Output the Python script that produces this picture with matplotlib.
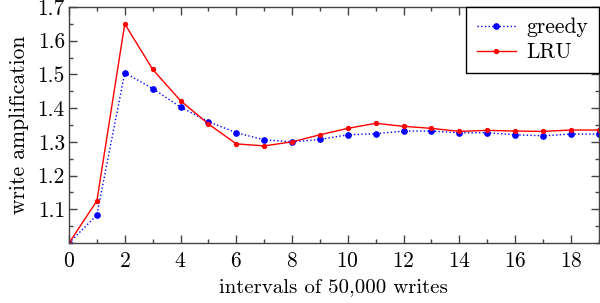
import numpy as np
import matplotlib
matplotlib.use("Agg")
import matplotlib.pyplot as plt

# intervals of 50,000 writes
intervals = list(range(20))

# write amplification
greedy = [1.000, 1.083, 1.505, 1.458, 1.403, 1.360, 1.327, 1.306, 1.300, 1.307,
          1.321, 1.324, 1.332, 1.332, 1.327, 1.327, 1.321, 1.318, 1.323, 1.323]
lru = [1.000, 1.125, 1.650, 1.515, 1.422, 1.353, 1.294, 1.288, 1.300, 1.321,
       1.340, 1.355, 1.346, 1.340, 1.331, 1.334, 1.332, 1.331, 1.335, 1.335]

y_ticks = [1.1, 1.2, 1.3, 1.4, 1.5, 1.6, 1.7]
x_ticks = list(range(0, 19, 2))

plt.rcParams["font.family"] = "cmr10"
plt.rcParams["axes.formatter.use_mathtext"] = True
plt.rcParams["mathtext.fontset"] = "cm"

fig = plt.figure(figsize=(6.0, 3.03), dpi=100)
ax = fig.add_axes([0.115, 0.198, 0.883, 0.779])

ax.plot(intervals, greedy, color="blue", linestyle=":", linewidth=1.0,
        marker="o", markersize=3.8, label="greedy")
ax.plot(intervals, lru, color="red", linestyle="-", linewidth=1.0,
        marker="o", markersize=2.8, label="LRU")

ax.set_xlim(0, 19)
ax.set_ylim(1.0, 1.7)
ax.set_xticks(x_ticks)
ax.set_xticks(np.arange(0, 19.5, 1), minor=True)
ax.set_yticks(y_ticks)
ax.set_yticks(np.arange(1.0, 1.71, 0.05), minor=True)
ax.set_yticklabels([f"{v:.1f}" for v in y_ticks])

ax.tick_params(which="both", direction="in", top=True, right=True,
               colors="#444444", labelcolor="black", labelsize=15.5)
ax.tick_params(which="major", length=6, width=1)
ax.tick_params(which="minor", length=3, width=1)
ax.tick_params(axis="x", which="major", pad=6)
ax.tick_params(axis="y", which="major", pad=3)
for s in ax.spines.values():
    s.set_color("#444444")
    s.set_linewidth(1.0)

ax.set_xlabel("intervals of 50,000 writes", fontsize=15, labelpad=5)
ax.set_ylabel("write amplification", fontsize=15.5, labelpad=6)

leg = ax.legend(loc="upper right", fontsize=15.5, fancybox=False,
                edgecolor="black", framealpha=1, borderaxespad=0,
                handlelength=1.8, handletextpad=0.5, borderpad=0.5,
                labelspacing=0.25)
leg.get_frame().set_linewidth(1.0)

fig.savefig("out.png", dpi=100)
